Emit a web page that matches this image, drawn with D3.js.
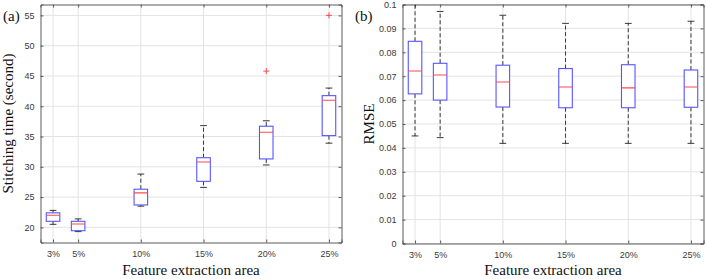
<!DOCTYPE html>
<html><head><meta charset="utf-8">
<script src="https://cdn.jsdelivr.net/npm/d3@7"></script>
<style>
body{margin:0;background:#fff}svg{display:block}
.serif{font-family:"Liberation Serif","Times New Roman","DejaVu Serif",serif;font-size:15px;fill:#111}
.tk text{font-family:"Liberation Sans",Arial,Helvetica,sans-serif;font-size:9px;fill:#3a3a3a}
</style>
</head><body><svg id="c" width="706" height="279"></svg>
<script>
const categories = [3, 5, 10, 15, 20, 25];
const tickLabels = ["3%", "5%", "10%", "15%", "20%", "25%"];

// Panel (a): stitching time (second)
const timeLow    = [20.5, 19.3, 23.5, 26.6, 30.3, 33.9];
const timeQ1     = [21.0, 19.45, 23.7, 27.6, 31.3, 35.15];
const timeMedian = [22.0, 20.55, 25.7, 30.8, 35.7, 41.0];
const timeQ3     = [22.4, 21.0, 26.3, 31.5, 36.7, 41.75];
const timeHigh   = [22.8, 21.4, 28.8, 36.8, 37.6, 43.0];
const timeOutliers = [[], [], [], [], [45.8], [55.0]];
const timeTicks = [20, 25, 30, 35, 40, 45, 50, 55];

// Panel (b): RMSE
const rmseLow    = [0.045, 0.0443, 0.0419, 0.0419, 0.0419, 0.0419];
const rmseQ1     = [0.0626, 0.0600, 0.0571, 0.0568, 0.0568, 0.0570];
const rmseMedian = [0.0722, 0.0705, 0.0676, 0.0655, 0.0651, 0.0655];
const rmseQ3     = [0.0846, 0.0754, 0.0746, 0.0732, 0.0748, 0.0726];
const rmseHigh   = [0.1040, 0.0971, 0.0955, 0.0921, 0.0921, 0.0930];
const rmseOutliers = [[], [], [], [], [], []];
const rmseTicks = [0, 0.01, 0.02, 0.03, 0.04, 0.05, 0.06, 0.07, 0.08, 0.09, 0.1];

const svg = d3.select("#c");

function panel(opt) {
  const x = d3.scaleLinear().domain([2, 26]).range([opt.x0, opt.x1]);
  const y = d3.scaleLinear().domain(opt.yDomain).range([opt.y1, opt.y0]);
  const g = svg.append("g");
  const clipId = "clip" + opt.id;
  svg.append("clipPath").attr("id", clipId).append("rect")
    .attr("x", opt.x0).attr("y", opt.y0).attr("width", opt.x1 - opt.x0).attr("height", opt.y1 - opt.y0);

  // grid
  g.append("g").selectAll("line").data(categories).join("line")
    .attr("x1", d => x(d)).attr("x2", d => x(d)).attr("y1", opt.y0).attr("y2", opt.y1)
    .attr("stroke", "#e3e3e3").attr("stroke-width", 1);
  g.append("g").selectAll("line").data(opt.ticks).join("line")
    .attr("y1", d => y(d)).attr("y2", d => y(d)).attr("x1", opt.x0).attr("x2", opt.x1)
    .attr("stroke", "#e3e3e3").attr("stroke-width", 1);

  // axes (inward ticks)
  const tl = 3;
  const axL = d3.axisLeft(y).tickValues(opt.ticks).tickSize(-tl).tickPadding(6).tickFormat(opt.fmt);
  const axR = d3.axisRight(y).tickValues(opt.ticks).tickSize(-tl).tickFormat("");
  const axB = d3.axisBottom(x).tickValues(categories).tickSize(-tl).tickPadding(8).tickFormat((d, i) => tickLabels[i]);
  const axT = d3.axisTop(x).tickValues(categories).tickSize(-tl).tickFormat("");
  const style = sel => {
    sel.attr("class", "tk").attr("font-family", null).attr("font-size", null);
    sel.select(".domain").attr("stroke", "#5a5a5a");
    sel.selectAll(".tick line").attr("stroke", "#5a5a5a");
    sel.selectAll("text").attr("fill", null);
  };
  g.append("g").attr("transform", `translate(${opt.x0},0)`).call(axL).call(style);
  g.append("g").attr("transform", `translate(${opt.x1},0)`).call(axR).call(style);
  g.append("g").attr("transform", `translate(0,${opt.y1})`).call(axB).call(style);
  g.append("g").attr("transform", `translate(0,${opt.y0})`).call(axT).call(style);

  // boxes
  const bw = x(3.54) - x(2.46);
  const cw = bw / 2;
  const b = g.append("g").attr("clip-path", `url(#${clipId})`);
  const idx = d3.range(categories.length);
  // whiskers dashed
  b.selectAll("line.wu").data(idx).join("line").attr("class", "wu")
    .attr("x1", i => x(categories[i])).attr("x2", i => x(categories[i]))
    .attr("y1", i => y(opt.q3[i])).attr("y2", i => y(opt.high[i]))
    .attr("stroke", "#222").attr("stroke-width", 0.9).attr("stroke-dasharray", "4,2.5");
  b.selectAll("line.wl").data(idx).join("line").attr("class", "wl")
    .attr("x1", i => x(categories[i])).attr("x2", i => x(categories[i]))
    .attr("y1", i => y(opt.q1[i])).attr("y2", i => y(opt.low[i]))
    .attr("stroke", "#222").attr("stroke-width", 0.9).attr("stroke-dasharray", "4,2.5");
  // caps
  b.selectAll("line.cu").data(idx).join("line").attr("class", "cu")
    .attr("x1", i => x(categories[i]) - cw / 2).attr("x2", i => x(categories[i]) + cw / 2)
    .attr("y1", i => y(opt.high[i])).attr("y2", i => y(opt.high[i]))
    .attr("stroke", "#222").attr("stroke-width", 0.9);
  b.selectAll("line.cl").data(idx).join("line").attr("class", "cl")
    .attr("x1", i => x(categories[i]) - cw / 2).attr("x2", i => x(categories[i]) + cw / 2)
    .attr("y1", i => y(opt.low[i])).attr("y2", i => y(opt.low[i]))
    .attr("stroke", "#222").attr("stroke-width", 0.9);
  // boxes
  b.selectAll("rect.bx").data(idx).join("rect").attr("class", "bx")
    .attr("x", i => x(categories[i]) - bw / 2).attr("width", bw)
    .attr("y", i => y(opt.q3[i])).attr("height", i => y(opt.q1[i]) - y(opt.q3[i]))
    .attr("fill", "#fff").attr("stroke", "#5555ff").attr("stroke-width", 1.1);
  // medians
  b.selectAll("line.md").data(idx).join("line").attr("class", "md")
    .attr("x1", i => x(categories[i]) - bw / 2).attr("x2", i => x(categories[i]) + bw / 2)
    .attr("y1", i => y(opt.median[i])).attr("y2", i => y(opt.median[i]))
    .attr("stroke", "#ff4a4a").attr("stroke-width", 1.1);
  // outliers
  const outs = [];
  opt.outliers.forEach((arr, i) => arr.forEach(v => outs.push({c: categories[i], v})));
  const s = 3;
  outs.forEach(o => {
    b.append("path").attr("d", `M${x(o.c) - s},${y(o.v)}H${x(o.c) + s}M${x(o.c)},${y(o.v) - s}V${y(o.v) + s}`)
      .attr("stroke", "#ff4a4a").attr("stroke-width", 1).attr("fill", "none");
  });

  // labels
  svg.append("text").attr("class", "serif").attr("x", (opt.x0 + opt.x1) / 2).attr("y", 275).attr("text-anchor", "middle")
    .text("Feature extraction area");
  svg.append("text").attr("class", "serif").attr("transform", `translate(${opt.ylx},${(opt.y0 + opt.y1) / 2}) rotate(-90)`)
    .attr("text-anchor", "middle")
    .text(opt.ylabel);
  svg.append("text").attr("class", "serif").attr("x", opt.px).attr("y", 21)
    .text(opt.plabel);
}

panel({id: "a", x0: 40.5, x1: 341.5, y0: 4.5, y1: 242.5, yDomain: [17.5, 56.8], ticks: timeTicks,
  fmt: d3.format("d"), low: timeLow, q1: timeQ1, median: timeMedian, q3: timeQ3, high: timeHigh,
  outliers: timeOutliers, ylabel: "Stitching time (second)", ylx: 13, plabel: "(a)", px: 3});
panel({id: "b", x0: 402.5, x1: 703.5, y0: 4.5, y1: 243.5, yDomain: [0, 0.1], ticks: rmseTicks,
  fmt: d => d === 0 ? "0" : d3.format(".2~f")(d), low: rmseLow, q1: rmseQ1, median: rmseMedian, q3: rmseQ3, high: rmseHigh,
  outliers: rmseOutliers, ylabel: "RMSE", ylx: 374, plabel: "(b)", px: 355});
</script></body></html>
